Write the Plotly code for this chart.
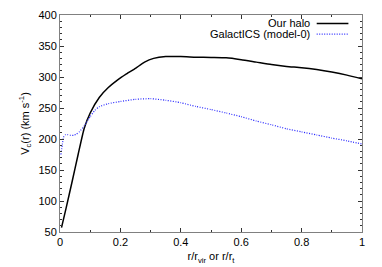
import plotly.graph_objects as go

# Data
halo_x = [0.005, 0.02, 0.04, 0.06, 0.08, 0.1, 0.13, 0.16, 0.19, 0.22, 0.25, 0.28,
          0.31, 0.35, 0.4, 0.45, 0.5, 0.55, 0.6, 0.65, 0.7, 0.75, 0.8, 0.85, 0.9,
          0.95, 1.0]
halo_v = [57, 88, 131, 175, 217, 242, 267, 283, 295, 305, 314, 324,
          330, 333, 333, 332, 331.5, 331, 328, 324, 320, 317, 315, 312, 308,
          303, 297]

gics_x = [0.003, 0.008, 0.012, 0.018, 0.025, 0.035, 0.045, 0.055, 0.065, 0.08,
          0.1, 0.115, 0.13, 0.16, 0.2, 0.25, 0.3, 0.35, 0.4, 0.45, 0.5, 0.55, 0.6,
          0.65, 0.7, 0.75, 0.8, 0.85, 0.9, 0.95, 1.0]
gics_v = [175, 192, 203, 207, 207, 206, 206, 208, 212, 221,
          236, 246, 252, 257, 260.5, 264, 265, 262.5, 258.5, 252.5, 247.5, 242, 236,
          229, 223, 216.5, 211.5, 206.5, 201.5, 197, 192]

series_names = ["Our halo", "GalactICS (model-0)"]

FONT = "Liberation Sans, Arial, sans-serif"
BLUE = "#2a2aff"

fig = go.Figure()
fig.add_trace(go.Scatter(x=halo_x, y=halo_v, mode="lines", name=series_names[0],
                         line=dict(color="black", width=1.5, shape="spline", smoothing=0.5),
                         showlegend=False))
fig.add_trace(go.Scatter(x=gics_x, y=gics_v, mode="lines", name=series_names[1],
                         line=dict(color=BLUE, width=1.2, dash="1px,1.5px", shape="spline", smoothing=0.5),
                         showlegend=False))

# legend (gnuplot style: text right-aligned, sample on the right)
leg_rows = [(0.961, "black", "solid", 1.5), (0.912, BLUE, "1px,1.5px", 1.2)]
for name, (yy, col, dash, w) in zip(series_names, leg_rows):
    fig.add_annotation(xref="paper", yref="paper", x=0.833, y=yy, text=name,
                       showarrow=False, xanchor="right", yanchor="middle",
                       font=dict(family=FONT, size=11, color="black"))
    fig.add_shape(type="line", xref="paper", yref="paper", x0=0.85, x1=0.955,
                  y0=yy, y1=yy, line=dict(color=col, width=w, dash=dash))

axis_common = dict(showline=True, linecolor="#808080", linewidth=1, mirror="ticks",
                   ticks="inside", ticklen=4, tickcolor="#333333", tickwidth=1,
                   showgrid=False, zeroline=False, ticklabeloverflow="allow",
                   tickfont=dict(family=FONT, size=11, color="black"))

fig.update_xaxes(range=[0, 1], tick0=0, dtick=0.2,
                 minor=dict(ticks="inside", dtick=0.1, ticklen=2, tickcolor="#333333"),
                 title=dict(text="r/r<sub>vir</sub> or r/r<sub>t</sub>",
                            font=dict(family=FONT, size=11, color="black"), standoff=5),
                 **axis_common)
fig.update_yaxes(range=[50, 400], tick0=50, dtick=50,
                 minor=dict(ticks="inside", dtick=10, ticklen=2, tickcolor="#333333"),
                 title=dict(text="V<sub>c</sub>(r) (km s<sup>-1</sup>)",
                            font=dict(family=FONT, size=11, color="black"), standoff=6),
                 **axis_common)

# page body has a margin: compensate so the plot frame lands where it should
fig.update_layout(width=374, height=259, margin=dict(l=52, r=20, t=1, b=35),
                  plot_bgcolor="white", paper_bgcolor="white",
                  font=dict(family=FONT, size=11, color="black"))

fig.write_html("out.html")
